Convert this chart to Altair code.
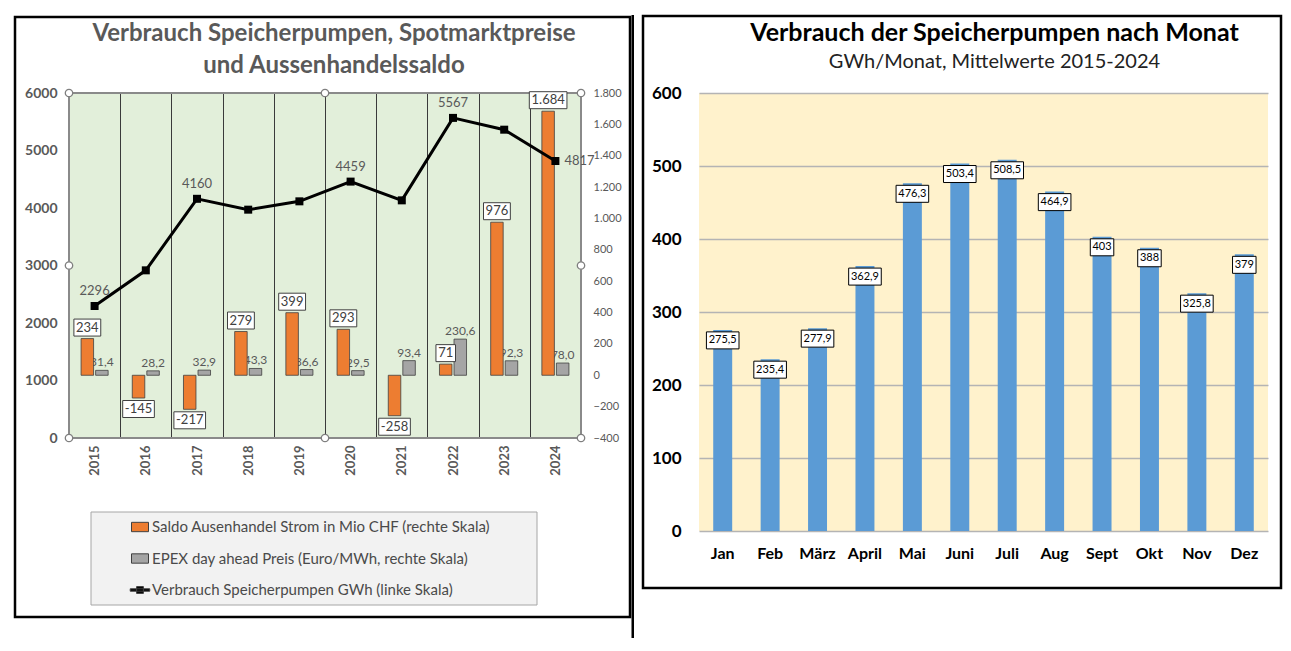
import altair as alt
import pandas as pd

# ---------------- data ----------------
years = [2015, 2016, 2017, 2018, 2019, 2020, 2021, 2022, 2023, 2024]
gwh = [2296, 2916, 4160, 3971, 4116, 4459, 4133, 5567, 5362, 4817]
gwh_shown = [True, False, True, False, False, True, False, True, False, True]
saldo = [234, -145, -217, 279, 399, 293, -258, 71, 976, 1684]
epex = [31.4, 28.2, 32.9, 43.3, 36.6, 29.5, 93.4, 230.6, 92.3, 78.0]

months = ["Jan", "Feb", "März", "April", "Mai", "Juni", "Juli", "Aug", "Sept", "Okt", "Nov", "Dez"]
monthly = [275.5, 235.4, 277.9, 362.9, 476.3, 503.4, 508.5, 464.9, 403, 388, 325.8, 379]

left_ticks = [0, 1000, 2000, 3000, 4000, 5000, 6000]
right_ticks = [-400, -200, 0, 200, 400, 600, 800, 1000, 1200, 1400, 1600, 1800]
month_ticks = [0, 100, 200, 300, 400, 500, 600]

series_names = [
    "Saldo Ausenhandel Strom in Mio CHF (rechte Skala)",
    "EPEX day ahead Preis (Euro/MWh, rechte Skala)",
    "Verbrauch Speicherpumpen GWh (linke Skala)",
]
ORANGE, GRAY, BLUE = "#ED7D31", "#A5A5A5", "#5B9BD5"
FONT = "Lato"

# ---------------- helpers ----------------
def fmt_int(v):
    return f"{v:,}".replace(",", ".")

def fmt_dec(v):
    return f"{v:.1f}".replace(".", ",")

def fmt_month(v):
    return f"{v:.0f}" if float(v).is_integer() else f"{v:.1f}".replace(".", ",")

CHAR_EM = {"-": 0.37, ".": 0.27, ",": 0.27}
BOX_SIZE = 2500  # symbol size -> 25 px per path unit

def box_path(label, font_px, height_px, pad_px):
    ppu = BOX_SIZE ** 0.5 / 2
    tw = sum(CHAR_EM.get(c, 0.56) for c in label) * font_px
    hw = (tw / 2 + pad_px) / ppu
    hh = height_px / 2 / ppu
    return f"M{-hw:.3f},{-hh:.3f}H{hw:.3f}V{hh:.3f}H{-hw:.3f}Z"

# ---------------- left chart ----------------
W1, H1 = 512, 345
bars = pd.DataFrame({
    "year": years * 2,
    "series": ["saldo"] * len(years) + ["epex"] * len(years),
    "value": saldo + epex,
    "label": [fmt_int(v) for v in saldo] + [fmt_dec(v) for v in epex],
    "color": [ORANGE] * len(years) + [GRAY] * len(years),
})
bars["box"] = [box_path(l, 13, 17, 2.5) for l in bars["label"]]

line_df = pd.DataFrame({
    "year": years,
    "gwh": gwh,
    "lab": [str(v) if s else "" for v, s in zip(gwh, gwh_shown)],
    "pos": ["right" if y == years[-1] else "above" for y in years],
})

xscale = alt.Scale(domain=years, paddingInner=0, paddingOuter=0)
xaxis = alt.Axis(title=None, tickBand="extent", grid=True, gridColor="#3a3a3a", gridWidth=1,
                 ticks=False, domain=False, labelAngle=270, labelFont=FONT, labelFontSize=13,
                 labelFontWeight="bold", labelColor="#595959", labelPadding=7)

def X1(**kw):
    return alt.X("year:O", scale=xscale, axis=xaxis, **kw)

xoff = alt.XOffset("series:N", scale=alt.Scale(domain=["saldo", "epex"], paddingInner=0.14, paddingOuter=0.83))

yR = alt.Y("value:Q", scale=alt.Scale(domain=[-400, 1800], nice=False),
           axis=alt.Axis(orient="right", values=right_ticks, title=None, ticks=False, domain=False,
                         grid=False, labelFont=FONT, labelFontSize=11, labelColor="#595959",
                         labelPadding=12, labelExpr="replace(format(datum.value, ','), ',', '.')"))
yL = alt.Y("gwh:Q", scale=alt.Scale(domain=[0, 6000], nice=False),
           axis=alt.Axis(orient="left", values=left_ticks, format="d", title=None, ticks=False,
                         domain=False, grid=False, labelFont=FONT, labelFontSize=14,
                         labelFontWeight="bold", labelColor="#595959", labelPadding=12))

bar_base = alt.Chart(bars)
gray_labels = bar_base.transform_filter("datum.series == 'epex'").mark_text(
    baseline="alphabetic", dy=-4, fontSize=12, color="#595959", font=FONT
).encode(x=X1(), xOffset=xoff, y=yR, text="label:N")
bar_layer = bar_base.mark_bar(stroke="#404040", strokeWidth=0.8).encode(
    x=X1(), xOffset=xoff, y=yR, color=alt.Color("color:N", scale=None))
pos_f = "datum.series == 'saldo' && datum.value >= 0"
neg_f = "datum.series == 'saldo' && datum.value < 0"
box_kw = dict(filled=True, fill="white", stroke="#404040", strokeWidth=1, size=BOX_SIZE, opacity=1)
box_pos = bar_base.transform_filter(pos_f).mark_point(yOffset=-11, **box_kw).encode(
    x=X1(), xOffset=xoff, y=yR, shape=alt.Shape("box:N", scale=None))
box_neg = bar_base.transform_filter(neg_f).mark_point(yOffset=11, **box_kw).encode(
    x=X1(), xOffset=xoff, y=yR, shape=alt.Shape("box:N", scale=None))
txt_kw = dict(baseline="middle", fontSize=13, color="#404040", font=FONT)
text_pos = bar_base.transform_filter(pos_f).mark_text(dy=-11, **txt_kw).encode(
    x=X1(), xOffset=xoff, y=yR, text="label:N")
text_neg = bar_base.transform_filter(neg_f).mark_text(dy=11, **txt_kw).encode(
    x=X1(), xOffset=xoff, y=yR, text="label:N")
bars_group = alt.layer(gray_labels, bar_layer, box_pos, box_neg, text_pos, text_neg)

line_base = alt.Chart(line_df)
line_layer = line_base.mark_line(
    color="black", strokeWidth=3,
    point=alt.OverlayMarkDef(shape="square", size=64, filled=True, color="black", opacity=1)
).encode(x=X1(), y=yL)
lab_above = line_base.transform_filter("datum.lab != '' && datum.pos == 'above'").mark_text(
    baseline="middle", dy=-15, fontSize=13, color="#595959", font=FONT
).encode(x=X1(), y=yL, text="lab:N")
lab_right = line_base.transform_filter("datum.lab != '' && datum.pos == 'right'").mark_text(
    baseline="middle", align="left", dx=9, fontSize=13, color="#595959", font=FONT
).encode(x=X1(), y=yL, text="lab:N")

handle_kw = dict(shape="circle", filled=True, fill="white", stroke="#7f7f7f", strokeWidth=1.3,
                 size=55, opacity=1)
h0 = pd.DataFrame({"year": [years[0]] * 3 + [years[5]] * 2, "gwh": [0, 3000, 6000, 0, 6000]})
h1 = pd.DataFrame({"year": [years[-1]] * 3, "gwh": [0, 3000, 6000]})
handles0 = alt.Chart(h0).mark_point(**handle_kw).encode(x=X1(bandPosition=0), y=yL)
handles1 = alt.Chart(h1).mark_point(**handle_kw).encode(x=X1(bandPosition=1), y=yL)

rect_path = "M-1,-0.55H1V0.55H-1Z"
line_path = "M-1.15,-0.14H1.15V0.14H-1.15Z M-0.4,-0.4H0.4V0.4H-0.4Z"
leg = alt.Legend(title=None, orient="none", legendX=62, legendY=425, labelFont=FONT,
                 labelFontSize=15, labelColor="#4a4a4a", symbolSize=289, symbolStrokeColor="#404040",
                 symbolStrokeWidth=1, symbolOpacity=1, rowPadding=14.5, labelOffset=3, padding=0,
                 labelLimit=600)
legend_layer = alt.Chart(pd.DataFrame({"series": series_names})).mark_point(filled=True, opacity=0).encode(
    color=alt.Color("series:N", scale=alt.Scale(domain=series_names, range=[ORANGE, GRAY, "#000000"]), legend=leg),
    shape=alt.Shape("series:N", scale=alt.Scale(domain=series_names, range=[rect_path, rect_path, line_path]), legend=leg),
)
line_group = alt.layer(line_layer, lab_above, lab_right, handles0, handles1, legend_layer)

deco = alt.Chart(pd.DataFrame({"k": [0]}))
legend_box = deco.mark_rect(fill="#f2f2f2", stroke="#a6a6a6", strokeWidth=1).encode(
    x=alt.value(22), x2=alt.value(468), y=alt.value(419), y2=alt.value(512))
plot_border = deco.mark_rect(fillOpacity=0, stroke="#8a8a8a", strokeWidth=2).encode(
    x=alt.value(0), x2=alt.value(W1), y=alt.value(0), y2=alt.value(H1))
frame1 = deco.mark_rect(fillOpacity=0, stroke="black", strokeWidth=2.5).encode(
    x=alt.value(-54), x2=alt.value(561), y=alt.value(-76), y2=alt.value(524))
separator = deco.mark_rule(color="black", strokeWidth=2.5).encode(
    x=alt.value(563.75), y=alt.value(-78), y2=alt.value(545))

left = alt.layer(legend_box, plot_border, bars_group, line_group, frame1, separator).resolve_scale(
    y="independent"
).properties(
    width=W1, height=H1,
    view=alt.ViewBackground(fill="#E2EFDA", strokeWidth=0),
    title=alt.TitleParams(["Verbrauch Speicherpumpen, Spotmarktpreise", "und Aussenhandelssaldo"],
                          font=FONT, fontSize=24, fontWeight="bold", color="#595959", lineHeight=32,
                          anchor="middle", dx=9, offset=-64),
)

# ---------------- right chart ----------------
W2, H2 = 569, 438
mdf = pd.DataFrame({"month": months, "v": monthly, "label": [fmt_month(v) for v in monthly]})
mdf["box"] = [box_path(l, 11, 17, 2.5) for l in mdf["label"]]

xR = alt.X("month:N", sort=months, scale=alt.Scale(paddingInner=0.6, paddingOuter=0.3),
           axis=alt.Axis(title=None, labelAngle=0, ticks=False, domain=False, labelFont=FONT,
                         labelFontSize=16, labelFontWeight="bold", labelColor="#000000", labelPadding=14))
yM = alt.Y("v:Q", scale=alt.Scale(domain=[0, 600], nice=False),
           axis=alt.Axis(values=month_ticks, title=None, ticks=False, domain=False, grid=True,
                         gridColor="#b4b4b4", gridWidth=1.5, labelFont=FONT, labelFontSize=17,
                         labelFontWeight="bold", labelColor="#000000", labelPadding=18))
mbase = alt.Chart(mdf)
mbars = mbase.mark_bar(color=BLUE).encode(x=xR, y=yM)
mboxes = mbase.mark_point(yOffset=10.5, filled=True, fill="white", stroke="#000000", strokeWidth=1,
                          size=BOX_SIZE, opacity=1).encode(x=xR, y=yM, shape=alt.Shape("box:N", scale=None))
mtext = mbase.mark_text(dy=10.5, baseline="middle", fontSize=11, color="#000000", font=FONT).encode(
    x=xR, y=yM, text="label:N")
frame2 = deco.mark_rect(fillOpacity=0, stroke="black", strokeWidth=2.5).encode(
    x=alt.value(-56), x2=alt.value(582), y=alt.value(-77), y2=alt.value(495))

right = alt.layer(mbars, mboxes, mtext, frame2).properties(
    width=W2, height=H2,
    view=alt.ViewBackground(fill="#FFF2CC", strokeWidth=0),
    title=alt.TitleParams("Verbrauch der Speicherpumpen nach Monat",
                          subtitle="GWh/Monat, Mittelwerte 2015-2024",
                          font=FONT, fontSize=25, fontWeight="bold", color="#000000",
                          subtitleFont=FONT, subtitleFontSize=20, subtitleColor="#222222",
                          subtitlePadding=6, anchor="middle", dx=11, offset=-57),
)

chart = alt.hconcat(left, right, spacing=118, bounds="flush").properties(
    padding={"left": 5, "top": 5, "right": 0, "bottom": 0}
).configure(font=FONT).configure_view(strokeWidth=0)

chart.save("out.html", embed_options={"renderer": "svg", "actions": False})
